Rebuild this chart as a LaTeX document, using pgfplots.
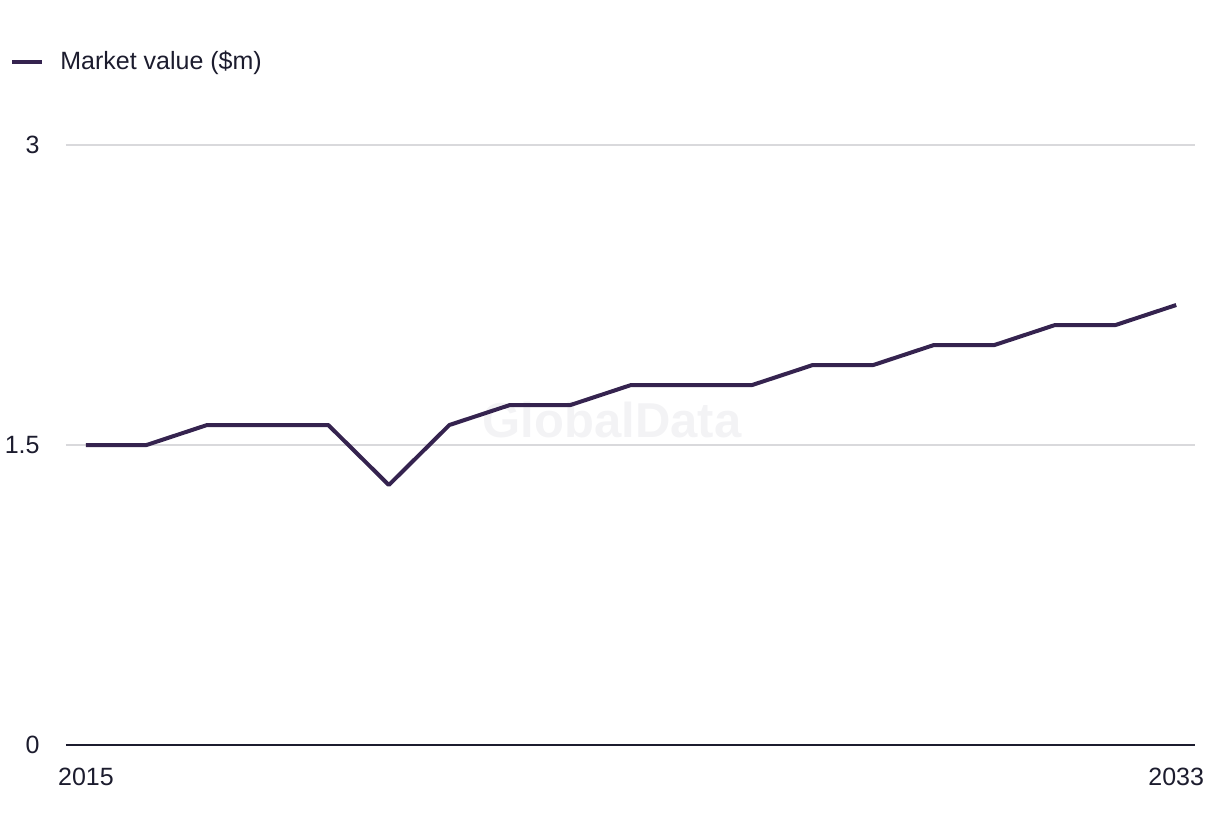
\documentclass[border=0pt]{standalone}
\usepackage{pgfplots}
\pgfplotsset{compat=1.18}
\usepackage{fontspec}
\setmainfont{Liberation Sans}
\definecolor{serie}{HTML}{35234F}
\definecolor{txt}{HTML}{1C1C2E}
\definecolor{gridc}{HTML}{D9D9DC}
\definecolor{wm}{HTML}{F3F3F5}
\begin{document}
\fontsize{12.5}{15}\selectfont
\begin{tikzpicture}
\path[use as bounding box] (-33pt,-45.5pt) rectangle (577pt,372.5pt);
\begin{axis}[
  scale only axis,
  width=564.5pt, height=300pt,
  xmin=2014.67, xmax=2033.31,
  ymin=0, ymax=3,
  xtick={2015,2033},
  ytick={0,1.5,3},
  axis x line*=bottom,
  axis y line*=left,
  y axis line style={draw=none},
  x axis line style={draw=txt, line width=1pt, -},
  major tick length=0pt,
  ymajorgrids,
  grid style={gridc, line width=0.6pt},
  /pgf/number format/1000 sep={},
  /pgf/number format/assume math mode=true,
  ticklabel style={font=\fontsize{12.5}{15}\selectfont, text=txt},
  yticklabel style={anchor=east, inner sep=0pt, xshift=-13pt},
  xticklabel style={anchor=north, inner sep=0pt, yshift=-11.5pt},
  legend style={at={(-0.0496,1.138)}, anchor=west, draw=none, fill=none, inner sep=0pt,
    font=\fontsize{12.5}{15}\selectfont, text=txt,
    /tikz/every even column/.append style={column sep=0pt}},
  legend cell align=left,
  legend image code/.code={\draw[#1] (0pt,0pt) -- (15pt,0pt);},
  clip=false,
]
\node[text=wm, font=\bfseries\fontsize{24.5}{28}\selectfont] at (axis description cs:0.4836,0.5417) {GlobalData};
\addplot[serie, line width=2pt, line join=round] coordinates {
(2015,1.5) (2016,1.5) (2017,1.6) (2018,1.6) (2019,1.6) (2020,1.3)
(2021,1.6) (2022,1.7) (2023,1.7) (2024,1.8) (2025,1.8) (2026,1.8)
(2027,1.9) (2028,1.9) (2029,2.0) (2030,2.0) (2031,2.1) (2032,2.1) (2033,2.2)
};
\addlegendentry{\hspace{6pt}Market value (\$m)}
\end{axis}
\end{tikzpicture}
\end{document}
